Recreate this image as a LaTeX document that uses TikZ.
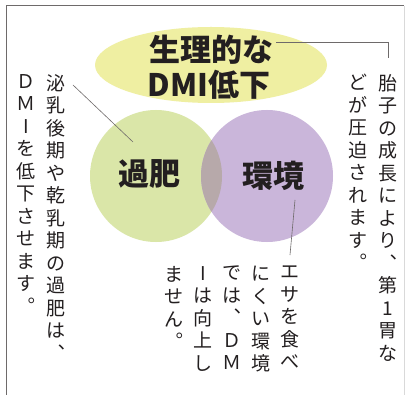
\documentclass[tikz,border=0pt]{standalone}
\usepackage{fontspec}
\usetikzlibrary{shapes.geometric}
\newfontfamily\jp{Noto Sans CJK JP}
\definecolor{ellyel}{HTML}{EFEFA2}
\definecolor{cgreen}{HTML}{DAE6A8}
\definecolor{cpurple}{HTML}{CAB6DA}
\definecolor{cover}{HTML}{B7A9AA}
\definecolor{ink}{HTML}{231F20}
\definecolor{framec}{HTML}{6E6A6A}
\makeatletter
\def\vtloop#1{\ifx\relax#1\else\hbox to 20pt{\hss#1\hss}\expandafter\vtloop\fi}
\newcommand\vtext[1]{\vbox{\baselineskip=22.5pt\lineskiplimit=-100pt\vtloop#1\relax}}
\makeatother
\tikzset{
  vcol/.style={anchor=north,inner sep=0pt,text=ink,font=\jp\fontsize{19}{22.5}\selectfont},
  big/.style={inner sep=1pt,text=ink,font=\jp\bfseries\fontsize{31}{35}\selectfont},
  lead/.style={draw=framec,line width=0.6pt},
  framel/.style={draw=framec,line width=1pt},
}
\begin{document}
\begin{tikzpicture}[x=1pt,y=-1pt]
\useasboundingbox (0,0) rectangle (409,395);
\fill[white] (0,0) rectangle (409,395);
\draw[framel] (6,395) -- (6,6) -- (404,6);
\draw[draw=black!15,line width=0.8pt] (404,6) -- (404,395);
% shapes
\node[ellipse,fill=ellyel,minimum width=232pt,minimum height=76pt,inner sep=0pt] (ell) at (211,65) {};
\node[circle,fill=cgreen,minimum size=132pt,inner sep=0pt] (kahi) at (156,176) {};
\node[circle,fill=cpurple,minimum size=132pt,inner sep=0pt] (kankyo) at (267,176) {};
\begin{scope}
  \clip (156,176) circle (66pt);
  \fill[cover] (267,176) circle (66pt);
\end{scope}
% titles
\node[big] (t1) at (211,50) {生理的な};
\node[big] (t2) at (209,85) {DMI低下};
\node[big] (w1) at (149,174) {過肥};
\node[big] (w2) at (273,176) {環境};
% vertical texts
\node[vcol] (r1) at (388,74) {\vtext{胎子の成長により︑第1胃な}};
\node[vcol] (r2) at (358,74) {\vtext{どが圧迫されます︒}};
\node[vcol] (l1) at (56,74) {\vtext{泌乳後期や乾乳期の過肥は︑}};
\node[vcol] (l2) at (26,74) {\vtext{ＤＭIを低下させます︒}};
\node[vcol] (b1) at (290,266) {\vtext{エサを食べ}};
\node[vcol] (b2) at (261,266) {\vtext{にくい環境}};
\node[vcol] (b3) at (232,266) {\vtext{では︑ＤＭ}};
\node[vcol] (b4) at (203,266) {\vtext{Iは向上し}};
\node[vcol] (b5) at (174,266) {\vtext{ません︒}};
% leaders
\coordinate (c1) at (388,58);
\coordinate (a1) at (73,85);
\coordinate (a2) at (133,142);
\coordinate (e1) at (295,200);
\coordinate (e2) at (290,255);
\draw[lead] ([xshift=2pt,yshift=8pt]t1.east) -| (c1);
\draw[lead] (a1) -- (a2);
\draw[lead] (e1) -- (e2);
\end{tikzpicture}
\end{document}
